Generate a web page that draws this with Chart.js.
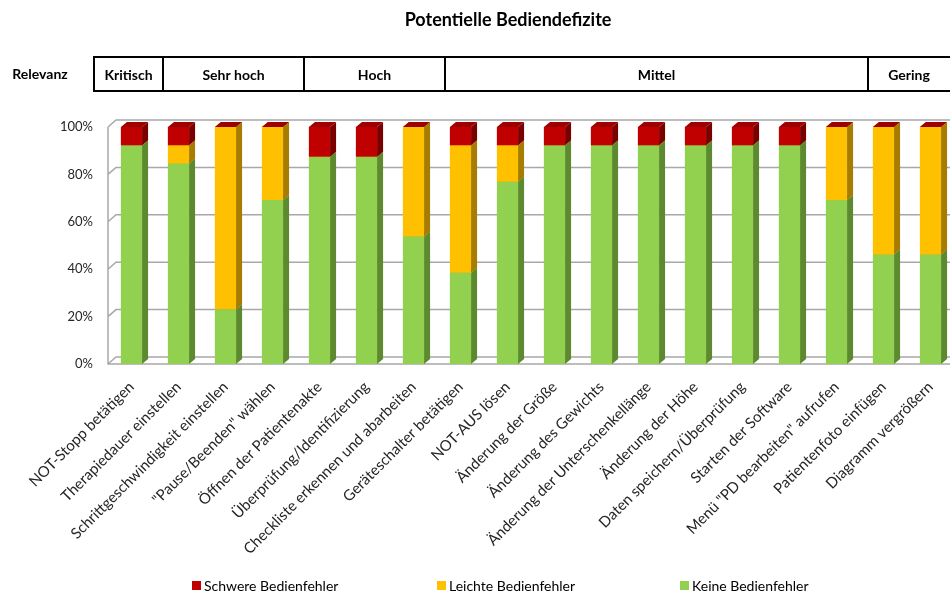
<!DOCTYPE html>
<html>
<head>
<meta charset="utf-8">
<script src="https://cdn.jsdelivr.net/npm/chart.js@4.4.0/dist/chart.umd.min.js"></script>
<style>
  html, body { margin: 0; padding: 0; overflow: hidden; background: #fff; }
  #wrap { width: 958px; height: 592px; }
</style>
</head>
<body>
<div id="wrap"><canvas id="chart" width="958" height="592"></canvas></div>
<script>
// Daten
const categories = [
  'NOT-Stopp betätigen', 'Therapiedauer einstellen', 'Schrittgeschwindigkeit einstellen',
  '"Pause/Beenden" wählen', 'Öffnen der Patientenakte', 'Überprüfung/Identifizierung',
  'Checkliste erkennen und abarbeiten', 'Geräteschalter betätigen', 'NOT-AUS lösen',
  'Änderung der Größe', 'Änderung des Gewichts', 'Änderung der Unterschenkellänge',
  'Änderung der Höhe', 'Daten speichern/Überprüfung', 'Starten der Software',
  'Menü "PD bearbeiten" aufrufen', 'Patientenfoto einfügen', 'Diagramm vergrößern'
];
const keine   = [92.3, 84.6, 23.1, 69.2, 87.5, 87.5, 53.8, 38.5, 76.9, 92.3, 92.3, 92.3, 92.3, 92.3, 92.3, 69.2, 46.2, 46.2];
const leichte = [0, 7.7, 76.9, 30.8, 0, 0, 46.2, 53.8, 15.4, 0, 0, 0, 0, 0, 0, 30.8, 53.8, 53.8];
const schwere = [7.7, 7.7, 0, 0, 12.5, 12.5, 0, 7.7, 7.7, 7.7, 7.7, 7.7, 7.7, 7.7, 7.7, 0, 0, 0];
const seriesNames = ['Keine Bedienfehler', 'Leichte Bedienfehler', 'Schwere Bedienfehler'];
const yTicks = [0, 20, 40, 60, 80, 100];
const groupNames = ['Kritisch', 'Sehr hoch', 'Hoch', 'Mittel', 'Gering'];
const groupSizes = [1, 3, 3, 9, 2];

// Farben: Vorderseite, Seite, Deckel
const front = ['#92D050', '#FFC000', '#C00000'];
const side  = ['#5E8A2F', '#A67D00', '#7A0000'];
const lid   = ['#7DB33F', '#D9A300', '#9E0000'];

const FONT = 'Lato, "Open Sans", sans-serif';
const DX = 6, DY = 5;      // Tiefe der Balken
const WX = 8, WY = 7;      // Tiefe der Rückwand

const wall = {
  id: 'wall',
  beforeDatasetsDraw(chart) {
    const { ctx, chartArea: a, scales: { y } } = chart;
    ctx.save();
    ctx.strokeStyle = '#A8A8A8';
    ctx.lineWidth = 1.5;
    ctx.beginPath();
    yTicks.forEach(t => {
      const py = y.getPixelForValue(t);
      ctx.moveTo(a.left, py);
      ctx.lineTo(a.left + WX, py - WY);
      ctx.lineTo(a.right + WX, py - WY);
    });
    ctx.moveTo(a.left, y.getPixelForValue(100));
    ctx.lineTo(a.left, y.getPixelForValue(0));
    ctx.lineTo(a.right, y.getPixelForValue(0));
    ctx.stroke();
    ctx.restore();
  }
};

const bars3d = {
  id: 'bars3d',
  afterDatasetsDraw(chart) {
    const ctx = chart.ctx;
    ctx.save();
    chart.data.datasets.forEach((ds, i) => {
      chart.getDatasetMeta(i).data.forEach(bar => {
        const p = bar.getProps(['x', 'y', 'base', 'width'], true);
        const l = p.x - p.width / 2, r = p.x + p.width / 2;
        const top = Math.min(p.y, p.base), bot = Math.max(p.y, p.base);
        ctx.fillStyle = front[i];
        ctx.fillRect(l, top, p.width, bot - top);
        ctx.fillStyle = side[i];
        ctx.beginPath();
        ctx.moveTo(r, bot); ctx.lineTo(r + DX, bot - DY);
        ctx.lineTo(r + DX, top - DY); ctx.lineTo(r, top);
        ctx.closePath(); ctx.fill();
        ctx.fillStyle = lid[i];
        ctx.beginPath();
        ctx.moveTo(l, top); ctx.lineTo(l + DX, top - DY);
        ctx.lineTo(r + DX, top - DY); ctx.lineTo(r, top);
        ctx.closePath(); ctx.fill();
      });
    });
    ctx.restore();
  }
};

const header = {
  id: 'header',
  afterDraw(chart) {
    const { ctx, scales: { x } } = chart;
    ctx.save();
    ctx.fillStyle = '#000';
    ctx.textAlign = 'center';
    ctx.textBaseline = 'middle';
    ctx.font = 'bold 18px ' + FONT;
    ctx.fillText('Potentielle Bediendefizite', 508, 20);

    const top = 57, bot = 91, mid = (top + bot) / 2;
    ctx.font = 'bold 14px ' + FONT;
    ctx.fillText('Relevanz', 40, mid);

    const step = x.getPixelForValue(1) - x.getPixelForValue(0);
    const edges = [94];
    let n = 0;
    groupSizes.forEach(s => {
      n += s;
      edges.push(Math.round(x.getPixelForValue(n - 1) + step / 2 + WX));
    });
    ctx.strokeStyle = '#000';
    ctx.lineWidth = 2;
    ctx.beginPath();
    ctx.moveTo(edges[0], top); ctx.lineTo(edges[edges.length - 1] + 10, top);
    ctx.moveTo(edges[0], bot); ctx.lineTo(edges[edges.length - 1] + 10, bot);
    edges.slice(0, -1).forEach(e => { ctx.moveTo(e, top - 1); ctx.lineTo(e, bot + 1); });
    ctx.stroke();
    groupNames.forEach((g, k) => {
      const right = k === groupNames.length - 1 ? 950 : edges[k + 1];
      ctx.fillText(g, (edges[k] + right) / 2, mid + 1);
    });

    // Legende (umgekehrte Reihenfolge)
    ctx.font = '14px ' + FONT;
    ctx.textAlign = 'left';
    const starts = [192, 437, 680];
    [2, 1, 0].forEach((i, k) => {
      ctx.fillStyle = front[i];
      ctx.fillRect(starts[k], 581, 9, 9);
      ctx.fillStyle = '#000';
      ctx.fillText(seriesNames[i], starts[k] + 12, 586);
    });
    ctx.restore();
  }
};

new Chart(document.getElementById('chart'), {
  type: 'bar',
  data: {
    labels: categories,
    datasets: [
      { label: seriesNames[0], data: keine, backgroundColor: front[0] },
      { label: seriesNames[1], data: leichte, backgroundColor: front[1] },
      { label: seriesNames[2], data: schwere, backgroundColor: front[2] }
    ]
  },
  options: {
    responsive: false,
    animation: false,
    layout: { padding: { top: 127, left: 0, right: 4, bottom: 0 } },
    categoryPercentage: 1,
    barPercentage: 0.45,
    plugins: { legend: { display: false }, tooltip: { enabled: false } },
    scales: {
      x: {
        stacked: true,
        grid: { display: false },
        border: { display: false },
        ticks: {
          autoSkip: false, minRotation: 45, maxRotation: 45,
          color: '#262626', font: { family: FONT, size: 15 }, padding: 6
        },
        afterFit(s) { s.height = 228; }
      },
      y: {
        stacked: true,
        min: 0, max: 100,
        grid: { display: false, drawTicks: false },
        border: { display: false },
        afterBuildTicks(s) { s.ticks = yTicks.map(v => ({ value: v })); },
        ticks: {
          color: '#262626', font: { family: FONT, size: 13 }, padding: 15,
          callback: v => v + '%'
        },
        afterFit(s) { s.width = 108; }
      }
    }
  },
  plugins: [wall, bars3d, header]
});
</script>
</body>
</html>
